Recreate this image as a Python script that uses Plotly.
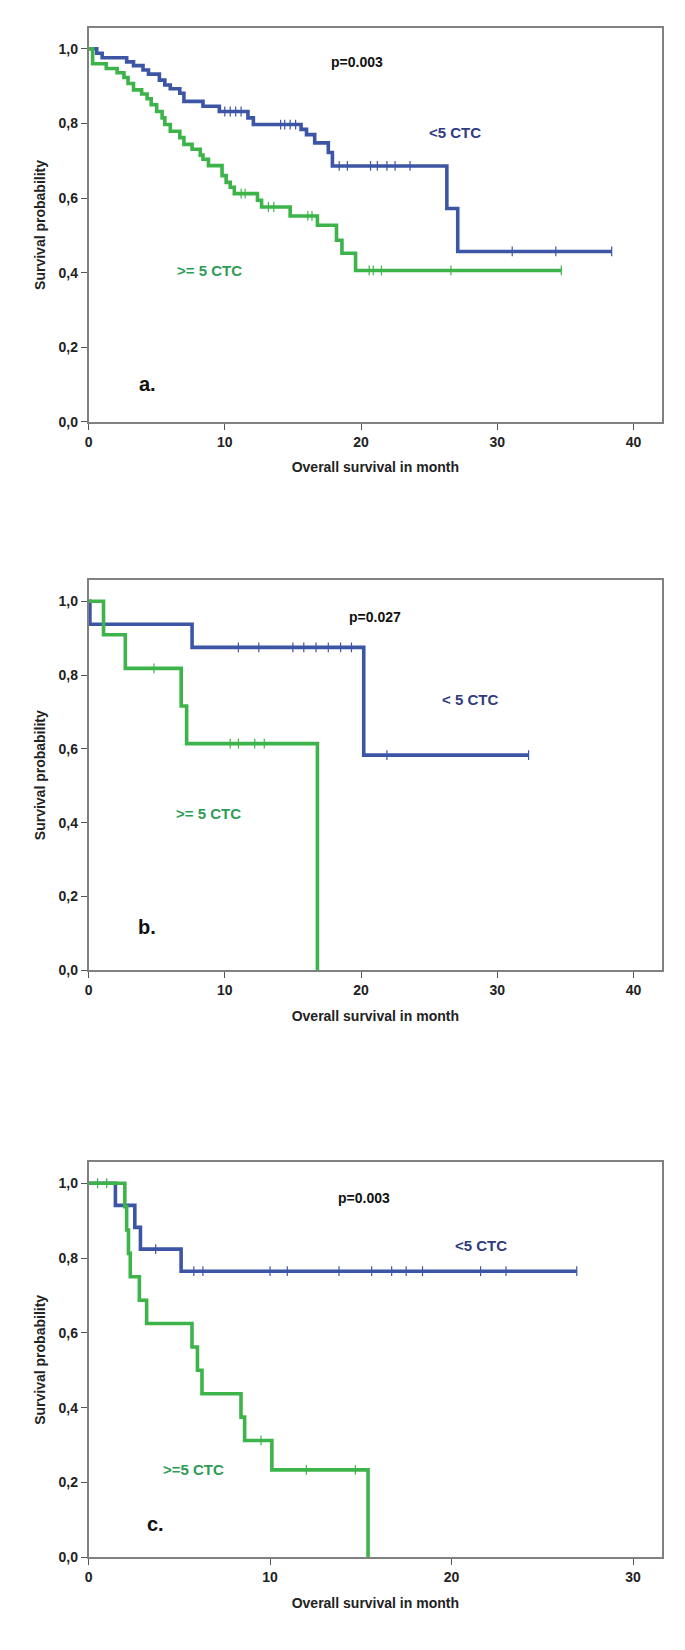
import plotly.graph_objects as go

# panel a: all patients
a_lt_times = [0, 0.6, 1.0, 2.8, 3.3, 4.0, 4.4, 5.2, 5.6, 6.0, 6.7, 7.0, 8.4, 9.6, 11.7, 12.1,
              15.6, 16.0, 16.6, 17.6, 17.9, 26.3, 27.1]
a_lt_surv = [1.0, 0.988, 0.976, 0.965, 0.955, 0.943, 0.932, 0.916, 0.903, 0.893, 0.881, 0.859,
             0.846, 0.832, 0.815, 0.797, 0.784, 0.77, 0.748, 0.722, 0.686, 0.572, 0.457]
a_lt_end = 38.4
a_lt_cens = [10.0, 10.4, 10.8, 11.2, 14.1, 14.4, 14.8, 15.2, 18.4, 19.0, 20.7, 21.2, 21.9,
             22.5, 23.6, 31.1, 34.3, 38.4]

a_ge_times = [0, 0.3, 1.3, 2.1, 2.6, 2.9, 3.3, 3.9, 4.3, 4.6, 5.0, 5.4, 5.6, 6.0, 6.7, 7.0,
              7.6, 8.2, 8.4, 8.8, 9.8, 10.1, 10.4, 10.7, 12.4, 12.7, 14.8, 16.8, 18.2, 18.6, 19.6]
a_ge_surv = [1.0, 0.96, 0.947, 0.936, 0.923, 0.907, 0.89, 0.879, 0.866, 0.85, 0.832, 0.815,
             0.797, 0.779, 0.762, 0.744, 0.731, 0.715, 0.704, 0.687, 0.66, 0.642, 0.629, 0.612,
             0.594, 0.576, 0.552, 0.527, 0.487, 0.452, 0.406]
a_ge_end = 34.7
a_ge_cens = [11.2, 11.5, 13.2, 13.6, 16.1, 16.4, 20.6, 20.9, 21.5, 26.6, 34.7]

# panel b
b_lt_times = [0, 0.1, 7.6, 20.2]
b_lt_surv = [1.0, 0.9375, 0.875, 0.583]
b_lt_end = 32.3
b_lt_cens = [11.0, 12.5, 15.0, 15.8, 16.7, 17.6, 18.5, 19.3, 21.9, 32.3]

b_ge_times = [0, 1.1, 2.7, 6.8, 7.2, 16.8]
b_ge_surv = [1.0, 0.909, 0.818, 0.716, 0.614, 0.0]
b_ge_end = None
b_ge_cens = [4.8, 10.4, 11.0, 12.2, 12.9]

# panel c
c_lt_times = [0, 1.48, 2.55, 2.86, 5.1]
c_lt_surv = [1.0, 0.941, 0.882, 0.824, 0.765]
c_lt_end = 26.9
c_lt_cens = [3.7, 5.8, 6.3, 10.0, 10.95, 13.8, 15.6, 16.7, 17.5, 18.4, 21.6, 23.0, 26.9]

c_ge_times = [0, 2.0, 2.1, 2.2, 2.3, 2.8, 3.2, 5.7, 6.0, 6.25, 8.4, 8.6, 10.1, 15.4]
c_ge_surv = [1.0, 0.9375, 0.875, 0.8125, 0.75, 0.6875, 0.625, 0.5625, 0.5, 0.4375, 0.375,
             0.3125, 0.234, 0.0]
c_ge_end = None
c_ge_cens = [0.5, 1.0, 9.5, 12.0, 14.7]

BLUE = '#3d55a5'
GREEN = '#3cb44a'
FONT = 'Liberation Sans, Arial, sans-serif'


def surv_at(times, surv, t):
  s = surv[0]
  for ti, si in zip(times, surv):
    if ti <= t:
      s = si
  return s


def km_traces(times, surv, end, cens, color, xa, ya):
  x = list(times)
  y = list(surv)
  if end is not None:
    x.append(end)
    y.append(surv[-1])
  line = go.Scatter(x=x, y=y, mode='lines', line=dict(color=color, width=3.6, shape='hv'),
                    xaxis=xa, yaxis=ya, showlegend=False, hoverinfo='skip')
  marks = go.Scatter(x=cens, y=[surv_at(times, surv, t) for t in cens], mode='markers',
                     marker=dict(symbol='line-ns', size=7, line=dict(color=color, width=1.2)),
                     xaxis=xa, yaxis=ya, showlegend=False, hoverinfo='skip')
  return [line, marks]


fig = go.Figure()
curves = [
  (a_lt_times, a_lt_surv, a_lt_end, a_lt_cens, BLUE, 'x', 'y'),
  (a_ge_times, a_ge_surv, a_ge_end, a_ge_cens, GREEN, 'x', 'y'),
  (b_lt_times, b_lt_surv, b_lt_end, b_lt_cens, BLUE, 'x2', 'y2'),
  (b_ge_times, b_ge_surv, b_ge_end, b_ge_cens, GREEN, 'x2', 'y2'),
  (c_lt_times, c_lt_surv, c_lt_end, c_lt_cens, BLUE, 'x3', 'y3'),
  (c_ge_times, c_ge_surv, c_ge_end, c_ge_cens, GREEN, 'x3', 'y3'),
]
for c in curves:
  for tr in km_traces(*c):
    fig.add_trace(tr)

# the page body has an 8px margin, so the figure is sized to fit inside the window
OFF = 8
W = 685 - 2 * OFF
H = 1650 - 2 * OFF
xdom = [(85 - OFF) / W, (662 - OFF) / W]
# (top px, bottom px, y range top, x range right, x ticks) in page pixels
panels = [
  (28, 424, 1.056, 42.1, [0, 10, 20, 30, 40]),
  (583, 975, 1.057, 42.1, [0, 10, 20, 30, 40]),
  (1168, 1565, 1.056, 31.6, [0, 10, 20, 30]),
]

tickfont = dict(family=FONT, size=14, color='#222222')
titlefont = dict(family=FONT, size=14, color='#222222')
layout = dict(
  width=W, height=H,
  margin=dict(l=0, r=0, t=0, b=0),
  paper_bgcolor='white', plot_bgcolor='white',
  separators=',.',
  showlegend=False,
  annotations=[],
)
for i, (top, bot, ytop, xright, xt) in enumerate(panels):
  sfx = '' if i == 0 else str(i + 1)
  layout['xaxis' + sfx] = dict(
    domain=xdom, range=[0, xright], tickvals=xt, ticktext=['<b>%d</b>' % v for v in xt],
    anchor='y' + sfx, ticks='outside', ticklen=6, tickwidth=1.3, tickcolor='#555555',
    showline=True, linecolor='#808080', linewidth=1.6, mirror=True, showgrid=False,
    zeroline=False, tickfont=tickfont,
    title=dict(text='<b>Overall survival in month</b>', font=titlefont, standoff=14),
  )
  yv = [0, 0.2, 0.4, 0.6, 0.8, 1.0]
  layout['yaxis' + sfx] = dict(
    domain=[1 - (bot - OFF) / H, 1 - (top - OFF) / H], range=[0, ytop], tickvals=yv,
    ticktext=['<b>%s</b>' % ('%.1f' % v).replace('.', ',') for v in yv],
    anchor='x' + sfx, ticks='outside', ticklen=6, tickwidth=1.3, tickcolor='#555555',
    showline=True, linecolor='#808080', linewidth=1.6, mirror=True, showgrid=False,
    zeroline=False, tickfont=tickfont,
    title=dict(text='<b>Survival probability</b>', font=titlefont, standoff=10),
  )

# panel texts: (x, y, text, color, size, panel)
texts = [
  (19.7, 0.965, 'p=0.003', '#111111', 14, ''),
  (26.9, 0.777, '<5 CTC', '#2f3c7e', 15, ''),
  (8.9, 0.407, '>= 5 CTC', '#2e9c55', 15, ''),
  (4.3, 0.102, 'a.', '#111111', 20, ''),
  (21.0, 0.956, 'p=0.027', '#111111', 14, '2'),
  (28.0, 0.734, '< 5 CTC', '#2f3c7e', 15, '2'),
  (8.8, 0.424, '>= 5 CTC', '#2e9c55', 15, '2'),
  (4.3, 0.116, 'b.', '#111111', 20, '2'),
  (15.2, 0.960, 'p=0.003', '#111111', 14, '3'),
  (21.6, 0.833, '<5 CTC', '#2f3c7e', 15, '3'),
  (5.8, 0.234, '>=5 CTC', '#2e9c55', 15, '3'),
  (3.7, 0.088, 'c.', '#111111', 20, '3'),
]
for x, y, t, col, sz, p in texts:
  layout['annotations'].append(dict(
    x=x, y=y, xref='x' + p, yref='y' + p, text='<b>%s</b>' % t.replace('<', '&lt;'),
    showarrow=False, font=dict(family=FONT, size=sz, color=col),
  ))

fig.update_layout(**layout)
fig.write_html("out.html")
